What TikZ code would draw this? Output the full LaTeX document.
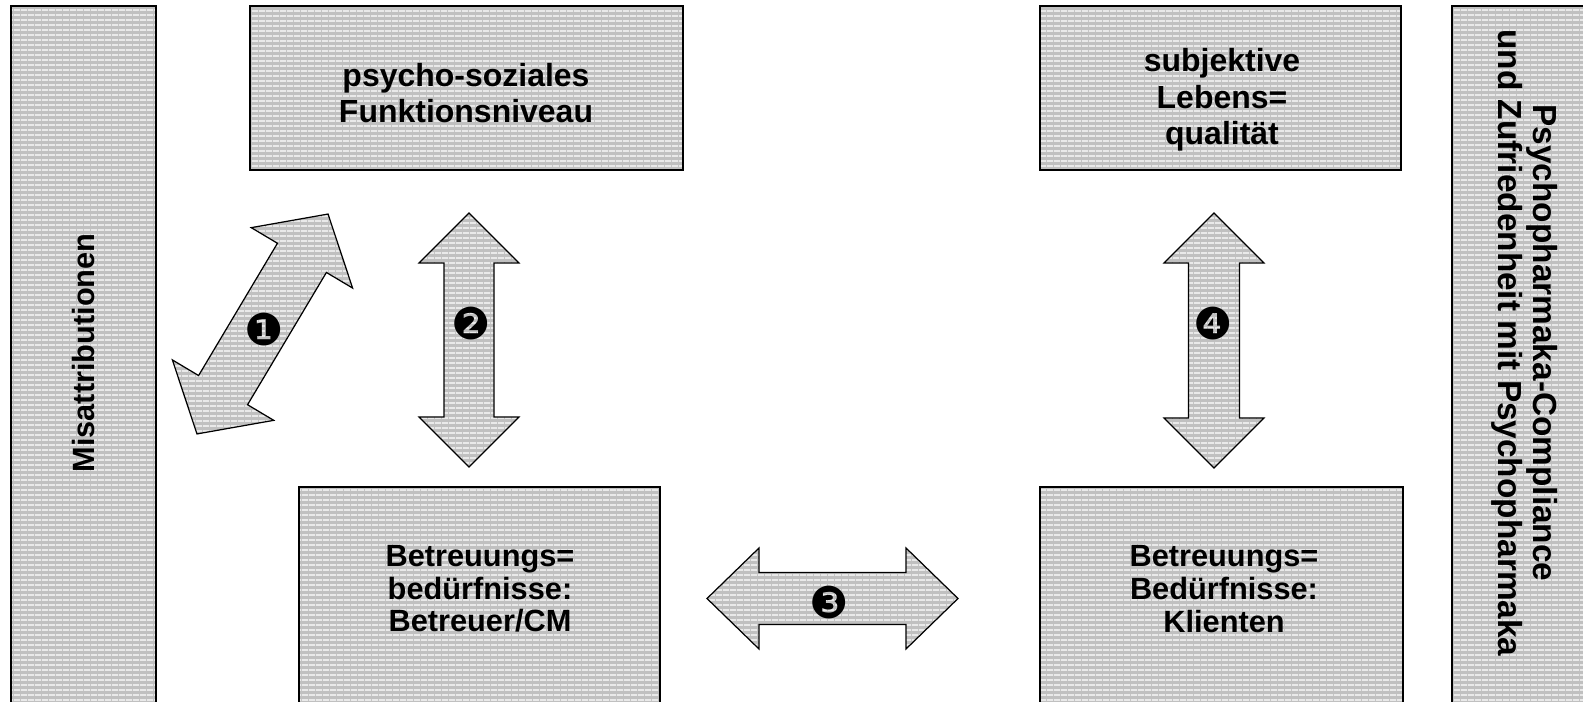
\documentclass[tikz,border=0pt]{standalone}
\usepackage{fontspec}
\setmainfont{Liberation Sans}
\newfontfamily\dingfont{DejaVu Sans}
\usepackage{tikz}
\usetikzlibrary{patterns.meta}
\definecolor{stripegray}{HTML}{C0C0C0}
\tikzdeclarepattern{
    name=hstripes,
    type=uncolored,
    bottom left={(0pt,0pt)},
    top right={(4pt,2.6pt)},
    tile size={(4pt,2.6pt)},
    code={
        \pgfsetlinewidth{0.75pt}
        \pgfpathmoveto{\pgfqpoint{0pt}{1.3pt}}
        \pgfpathlineto{\pgfqpoint{4pt}{1.3pt}}
        \pgfusepath{stroke}
    }
}
\tikzset{
    box/.style={draw=black, line width=1pt, preaction={fill=stripegray},
        pattern=hstripes, pattern color=white},
    blockarrow/.style={draw=black, line width=0.7pt, preaction={fill=stripegray},
        pattern=hstripes, pattern color=white, line join=miter},
    boxtext/.style={font=\fontsize{17.5}{18.6}\selectfont\bfseries, align=center, inner sep=0pt},
    toptext/.style={boxtext, font=\fontsize{18.2}{20.8}\selectfont\bfseries},
    bartext/.style={boxtext, font=\fontsize{19}{19.8}\selectfont\bfseries},
    numtext/.style={font=\dingfont\fontsize{25}{25}\selectfont, inner sep=0pt},
    pics/dblarrow/.style args={#1/#2/#3/#4}{
    code = {
        \draw[blockarrow] (0,-#1) -- (#2,-#1+#4) -- (#3,-#1+#4) -- (#3,#1-#4)
            -- (#2,#1-#4) -- (0,#1) -- (-#2,#1-#4) -- (-#3,#1-#4)
            -- (-#3,-#1+#4) -- (-#2,-#1+#4) -- cycle;
    }}
}
\begin{document}
\begin{tikzpicture}[x=0.02cm,y=-0.02cm]
    \useasboundingbox (0,0) rectangle (1583,702);

    % bars and boxes
    \draw[box] (11,6) rectangle (156,720);
    \node[boxtext, rotate=90] (mis) at (84,353) {Misattributionen};

    \draw[box] (250,6) rectangle (683,170);
    \node[toptext] (pfn) at (466,93) {psycho-soziales\\Funktionsniveau};

    \draw[box] (1040,6) rectangle (1401,170);
    \node[toptext] (slq) at (1222,100) {subjektive\\Lebens=\\qualität};

    \draw[box] (299,487) rectangle (660,720);
    \node[boxtext] (bcm) at (480,589) {Betreuungs=\\bedürfnisse:\\Betreuer/CM};

    \draw[box] (1040,487) rectangle (1403,720);
    \node[boxtext] (bkl) at (1224,589) {Betreuungs=\\Bedürfnisse:\\Klienten};

    \draw[box] (1452,6) rectangle (1600,720);
    \node[bartext, rotate=-90] (pcz) at (1525,343)
        {Psychopharmaka-Compliance\\und Zufriedenheit mit Psychopharmaka};

    % block arrows
    \pic[rotate=-30.8] at (262.5,324) {dblarrow=128/59/28.5/51};
    \pic at (469,340) {dblarrow=127/50/25/50};
    \pic[rotate=90] at (832.5,598.5) {dblarrow=125.5/50.5/26/52};
    \pic at (1214,340.5) {dblarrow=127.5/50/25.5/50};

    \node[numtext] (n1) at (264,330) {❶};
    \node[numtext] (n2) at (471,324) {❷};
    \node[numtext] (n3) at (829,602) {❸};
    \node[numtext] (n4) at (1213,324) {❹};
\end{tikzpicture}
\end{document}
